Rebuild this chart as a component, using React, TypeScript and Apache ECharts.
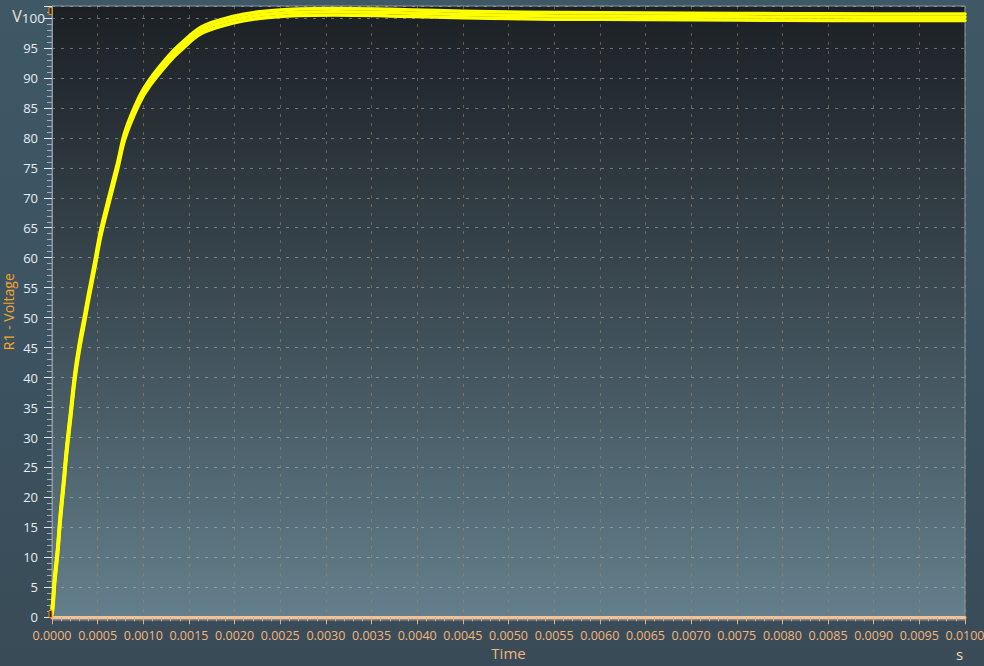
import React, { useEffect, useRef } from "react";
import * as echarts from "echarts";

// Time (s) and R1 voltage (V) (centre of the noisy band)
const timeS = [
  0, 0.000011, 0.000026, 0.0000625, 0.000092, 0.000128, 0.000161, 0.000202,
  0.000249, 0.000298, 0.000359, 0.000395, 0.000465, 0.000534, 0.000625,
  0.000717, 0.0008, 0.000956, 0.00107, 0.00127, 0.0014, 0.00164, 0.00198,
  0.00228, 0.0027, 0.0031, 0.0037, 0.0042, 0.0048, 0.0055, 0.0065, 0.0075,
  0.0085, 0.01,
];
const voltage = [
  1.0, 2.3, 5.7, 11.2, 16.8, 22.4, 27.9, 33.5, 40.0, 45.0, 50.0, 53.0, 58.5,
  64.1, 69.7, 75.2, 80.5, 86.3, 89.2, 93.0, 95.0, 98.0, 99.7, 100.5, 100.95,
  101.05, 100.9, 100.7, 100.5, 100.35, 100.3, 100.2, 100.15, 100.12,
];
// half height of the noise band seen on the trace (V)
const noiseHalf = 0.55;

const xMin = 0;
const xMax = 0.01;
const xStep = 0.0005;
const yMin = 0;
const yMax = 102;
const yStep = 5;

const FONT = '"Open Sans", "Noto Sans", "DejaVu Sans", sans-serif';

export default function App() {
  const ref = useRef<HTMLDivElement>(null);

  useEffect(() => {
    if (!ref.current) return;
    const chart = echarts.init(ref.current, null, { renderer: "svg" });

    const center = timeS.map((t, i) => [t, voltage[i]]);
    const upper = timeS.map((t, i) => [t, voltage[i] + noiseHalf]);
    const lower = timeS.map((t, i) => [t, voltage[i] - noiseHalf]);

    const traceSeries = (name: string, data: number[][], width: number) => ({
      name,
      type: "line",
      data,
      showSymbol: false,
      symbol: "none",
      smooth: 0.35,
      silent: true,
      z: 5,
      lineStyle: { color: "#ffff00", width, join: "round", cap: "round" },
    });

    const peach = "#f3b57e";

    chart.setOption({
      animation: false,
      backgroundColor: "transparent",
      textStyle: { fontFamily: FONT },
      grid: {
        left: 52,
        right: 19,
        top: 6,
        bottom: 48.7,
        containLabel: false,
        outerBoundsMode: "none",
      },
      graphic: [
        {
          type: "rect",
          z: -100,
          silent: true,
          shape: { x: 52, y: 6, width: 913, height: 614 },
          style: {
            fill: new echarts.graphic.LinearGradient(0, 0, 0, 1, [
              { offset: 0, color: "#1c2024" },
              { offset: 0.5, color: "#3d4c55" },
              { offset: 1, color: "#64808c" },
            ]),
            stroke: "#8f989e",
            lineWidth: 1,
          },
        },
        {
          type: "rect",
          z: 50,
          silent: true,
          shape: { x: 49, y: 7.5, width: 3, height: 7 },
          style: { fill: "#2b2b2b", stroke: "#f08c10", lineWidth: 1 },
        },
        {
          type: "rect",
          z: 50,
          silent: true,
          shape: { x: 49, y: 610.5, width: 3, height: 7 },
          style: { fill: "#2b2b2b", stroke: "#f08c10", lineWidth: 1 },
        },
        {
          type: "text",
          z: 50,
          silent: true,
          x: 956,
          y: 647,
          style: {
            text: "s",
            fill: "#f1dcbd",
            fontSize: 15,
            lineHeight: 13,
            fontFamily: FONT,
          },
        },
      ],
      xAxis: {
        type: "value",
        min: xMin,
        max: xMax,
        interval: xStep,
        offset: 3,
        axisLine: { show: true, lineStyle: { color: "#f5c096", width: 3 } },
        axisTick: { show: true, length: 7, lineStyle: { color: "#e8b07c" } },
        minorTick: {
          show: true,
          splitNumber: 5,
          length: 4,
          lineStyle: { color: "#e8b07c" },
        },
        axisLabel: {
          color: peach,
          fontSize: 12.5,
          lineHeight: 12,
          fontFamily: FONT,
          margin: 9,
          showMaxLabel: true,
          hideOverlap: false,
          formatter: (v: number) => v.toFixed(4),
        },
        splitLine: {
          show: true,
          lineStyle: { color: "rgba(165,135,105,0.55)", type: [3, 6], width: 1 },
        },
        name: "Time",
        nameLocation: "middle",
        nameGap: 26,
        nameMoveOverlap: false,
        nameTextStyle: {
          color: peach,
          fontSize: 15,
          lineHeight: 13,
          fontFamily: FONT,
          textShadowColor: "rgba(0,0,0,0.9)",
          textShadowOffsetX: 1,
          textShadowOffsetY: 1.5,
          textShadowBlur: 0,
        },
      },
      yAxis: {
        type: "value",
        min: yMin,
        max: yMax,
        interval: yStep,
        axisLine: { show: true, lineStyle: { color: "#8f989e", width: 1 } },
        axisTick: { show: true, length: 8, lineStyle: { color: "#e2e8ec" } },
        minorTick: {
          show: true,
          splitNumber: 5,
          length: 5,
          lineStyle: { color: "#a3adb3" },
        },
        axisLabel: {
          color: "#e6edf1",
          fontSize: 13,
          fontFamily: FONT,
          margin: 7,
          hideOverlap: false,
          formatter: (v: number) => {
            if (v === 100) return "{u|V}{t|100}";
            if (v % yStep !== 0 || v > 100) return "";
            return "{n|" + v + "}";
          },
          rich: {
            n: { color: "#e6edf1", fontSize: 13, fontFamily: FONT, padding: [0, 7, 0, 0] },
            u: { color: "#efe3c4", fontSize: 16, fontFamily: FONT, padding: [0, 0, 4, 0] },
            t: { color: "#e6edf1", fontSize: 13.5, fontFamily: FONT },
          },
        },
        splitLine: {
          show: true,
          lineStyle: { color: "rgba(185,190,195,0.5)", type: [3, 6], width: 1 },
        },
        name: "R1 - Voltage",
        nameLocation: "middle",
        nameGap: 37,
        nameMoveOverlap: false,
        nameTextStyle: { color: "#f4a428", fontSize: 14, fontFamily: FONT },
      },
      series: [
        traceSeries("upper", upper, 3.5),
        traceSeries("lower", lower, 3.5),
        traceSeries("R1 - Voltage", center, 3.5),
      ],
    });

    return () => chart.dispose();
  }, []);

  return (
    <div
      ref={ref}
      style={{
        position: "fixed",
        left: 0,
        top: 0,
        width: 984,
        height: 666,
        background: "linear-gradient(180deg, #3f5866 0%, #3c5260 55%, #394b57 100%)",
      }}
    />
  );
}
